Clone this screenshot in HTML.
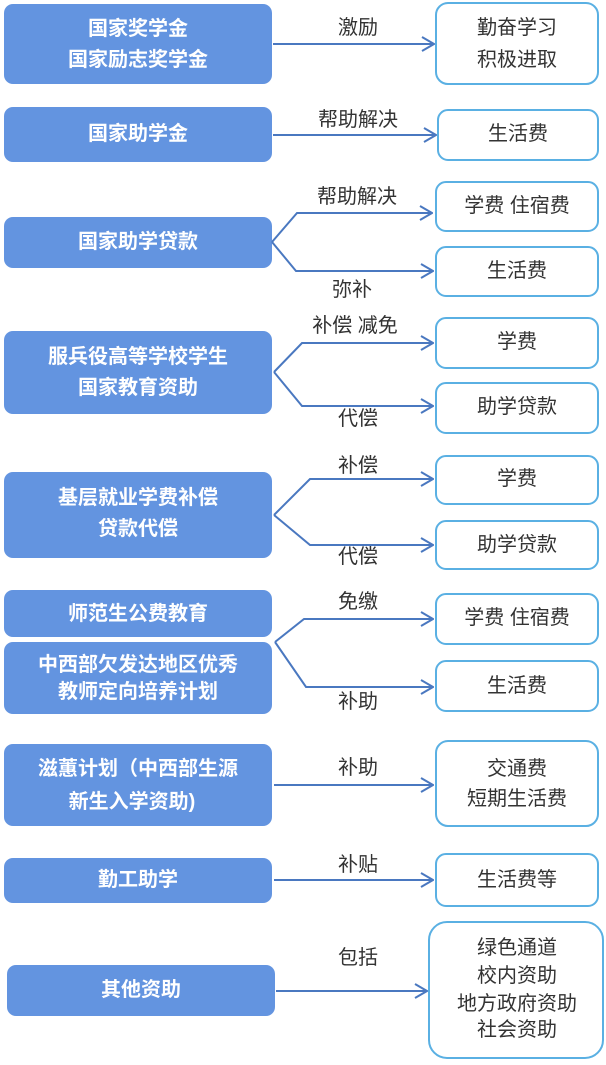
<!DOCTYPE html>
<html><head><meta charset="utf-8"><style>
html,body{margin:0;padding:0;background:#fff}
svg text{font-family:"Liberation Sans","Noto Sans CJK SC",sans-serif;dominant-baseline:central;text-anchor:middle}
.l{fill:#6394e0}
.lt{fill:#fff;font-size:20px;font-weight:bold}
.r{fill:#fff;stroke:#5ab0e3;stroke-width:2}
.rt{fill:#333;font-size:20px}
.a{fill:none;stroke:#4a78c0;stroke-width:2}
.at{fill:#333;font-size:20px}
</style></head><body>
<svg width="606" height="1060" xmlns="http://www.w3.org/2000/svg">
<defs><marker id="m" markerWidth="14" markerHeight="16" refX="13" refY="8" orient="auto" markerUnits="userSpaceOnUse"><path d="M1,1 L13,8 L1,15" fill="none" stroke="#4a78c0" stroke-width="2"/></marker></defs>
<rect class="l" x="4" y="4" width="268" height="80" rx="9"/>
<text class="lt" x="138" y="29">国家奖学金</text><text class="lt" x="138" y="60">国家励志奖学金</text>
<rect class="l" x="4" y="107" width="268" height="55" rx="9"/>
<text class="lt" x="138" y="134">国家助学金</text>
<rect class="l" x="4" y="217" width="268" height="51" rx="9"/>
<text class="lt" x="138" y="242">国家助学贷款</text>
<rect class="l" x="4" y="331" width="268" height="83" rx="9"/>
<text class="lt" x="138" y="357">服兵役高等学校学生</text><text class="lt" x="138" y="388">国家教育资助</text>
<rect class="l" x="4" y="472" width="268" height="86" rx="9"/>
<text class="lt" x="138" y="498">基层就业学费补偿</text><text class="lt" x="138" y="529">贷款代偿</text>
<rect class="l" x="4" y="590" width="268" height="47" rx="9"/>
<text class="lt" x="138" y="614">师范生公费教育</text>
<rect class="l" x="4" y="642" width="268" height="72" rx="9"/>
<text class="lt" x="138" y="665">中西部欠发达地区优秀</text><text class="lt" x="138" y="692">教师定向培养计划</text>
<rect class="l" x="4" y="744" width="268" height="82" rx="9"/>
<text class="lt" x="138" y="769">滋蕙计划（中西部生源</text><text class="lt" x="132" y="802">新生入学资助)</text>
<rect class="l" x="4" y="858" width="268" height="45" rx="9"/>
<text class="lt" x="138" y="880">勤工助学</text>
<rect class="l" x="7" y="965" width="268" height="51" rx="9"/>
<text class="lt" x="141" y="990">其他资助</text>
<rect class="r" x="436" y="3" width="162" height="81" rx="12"/>
<text class="rt" x="517" y="28">勤奋学习</text><text class="rt" x="517" y="60">积极进取</text>
<rect class="r" x="438" y="110" width="160" height="50" rx="10"/><text class="rt" x="518" y="134">生活费</text>
<rect class="r" x="436" y="182" width="162" height="49" rx="10"/><text class="rt" x="517" y="206">学费  住宿费</text>
<rect class="r" x="436" y="247" width="162" height="49" rx="10"/><text class="rt" x="517" y="271">生活费</text>
<rect class="r" x="436" y="318" width="162" height="50" rx="10"/><text class="rt" x="517" y="342">学费</text>
<rect class="r" x="436" y="383" width="162" height="50" rx="10"/><text class="rt" x="517" y="407">助学贷款</text>
<rect class="r" x="436" y="456" width="162" height="48" rx="10"/><text class="rt" x="517" y="479">学费</text>
<rect class="r" x="436" y="521" width="162" height="48" rx="10"/><text class="rt" x="517" y="545">助学贷款</text>
<rect class="r" x="436" y="594" width="162" height="50" rx="10"/><text class="rt" x="517" y="618">学费  住宿费</text>
<rect class="r" x="436" y="661" width="162" height="50" rx="10"/><text class="rt" x="517" y="686">生活费</text>
<rect class="r" x="436" y="741" width="162" height="85" rx="12"/>
<text class="rt" x="517" y="769">交通费</text><text class="rt" x="517" y="799">短期生活费</text>
<rect class="r" x="436" y="854" width="162" height="52" rx="10"/><text class="rt" x="517" y="880">生活费等</text>
<rect class="r" x="429" y="922" width="174" height="136" rx="18"/>
<text class="rt" x="517" y="948">绿色通道</text><text class="rt" x="517" y="976">校内资助</text><text class="rt" x="517" y="1004">地方政府资助</text><text class="rt" x="517" y="1030">社会资助</text>
<path class="a" d="M273,44 H434" marker-end="url(#m)"/><text class="at" x="358" y="28">激励</text>
<path class="a" d="M273,135 H436" marker-end="url(#m)"/><text class="at" x="358" y="120">帮助解决</text>
<path class="a" d="M272,242 L297,213 H432" marker-end="url(#m)"/>
<path class="a" d="M272,242 L296,271 H433" marker-end="url(#m)"/>
<text class="at" x="357" y="197">帮助解决</text><text class="at" x="352" y="290">弥补</text>
<path class="a" d="M274,372 L302,343 H433" marker-end="url(#m)"/>
<path class="a" d="M274,372 L302,406 H433" marker-end="url(#m)"/>
<text class="at" x="355" y="326">补偿  减免</text><text class="at" x="358" y="419">代偿</text>
<path class="a" d="M274,515 L310,479 H433" marker-end="url(#m)"/>
<path class="a" d="M274,515 L310,545 H433" marker-end="url(#m)"/>
<text class="at" x="358" y="466">补偿</text><text class="at" x="358" y="557">代偿</text>
<path class="a" d="M275,642 L304,619 H433" marker-end="url(#m)"/>
<path class="a" d="M275,642 L306,687 H433" marker-end="url(#m)"/>
<text class="at" x="358" y="602">免缴</text><text class="at" x="358" y="702">补助</text>
<path class="a" d="M274,785 H433" marker-end="url(#m)"/><text class="at" x="358" y="768">补助</text>
<path class="a" d="M274,880 H433" marker-end="url(#m)"/><text class="at" x="358" y="865">补贴</text>
<path class="a" d="M276,991 H427" marker-end="url(#m)"/><text class="at" x="358" y="958">包括</text>
</svg>
</body></html>
